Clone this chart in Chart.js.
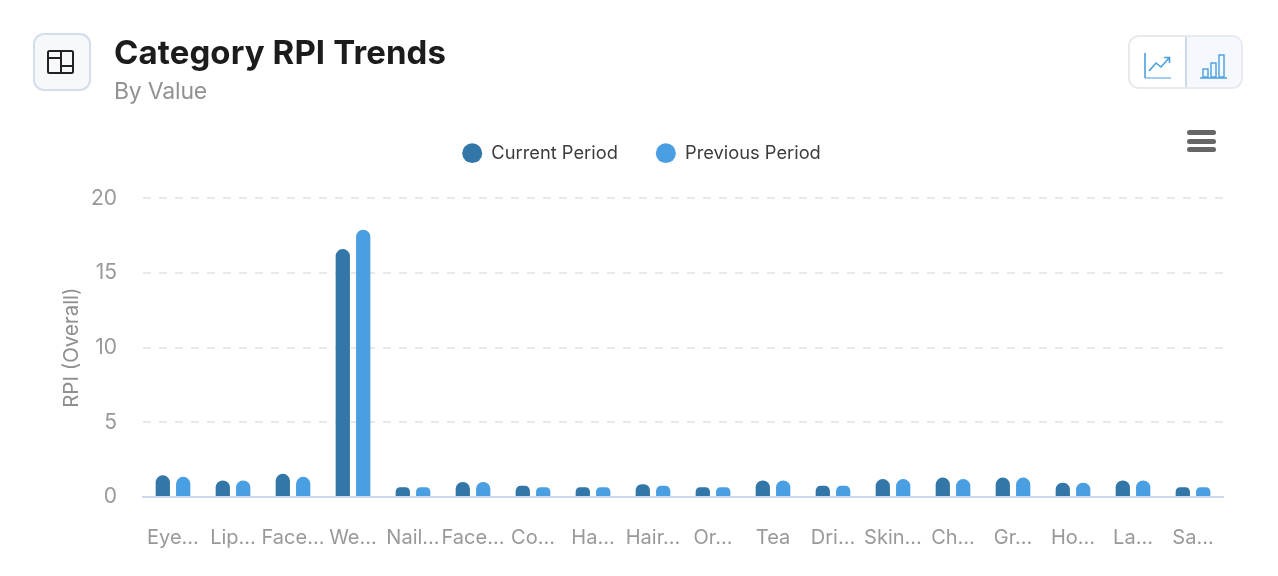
<!DOCTYPE html>
<html>
<head>
<meta charset="utf-8">
<title>Category RPI Trends</title>
<script src="https://cdn.jsdelivr.net/npm/chart.js@4"></script>
<style>
  html, body { margin: 0; padding: 0; background: #fff; overflow: hidden; }
  body { width: 1278px; height: 576px; position: relative; font-family: Inter, sans-serif; }
  #myChart { position: absolute; left: 0; top: 0; }
  .icon-box { position: absolute; left: 33px; top: 33px; width: 54px; height: 54px; border: 2px solid #d3deeb; border-radius: 11px; background: #f6f8fb; }
  .icon-box svg { position: absolute; left: 12px; top: 14px; }
  h1 { position: absolute; left: 114px; top: 32px; margin: 0; font-size: 33px; line-height: 40px; font-weight: 700; color: #1c1c1c; letter-spacing: 0.1px; }
  .sub { position: absolute; left: 114px; top: 76px; font-size: 23px; line-height: 30px; color: #929292; letter-spacing: -0.2px; }
  .switch { position: absolute; left: 1128px; top: 35px; width: 111px; height: 50px; border: 2px solid #e8eaed; border-radius: 11px; overflow: hidden; }
  .switch .right { position: absolute; left: 55px; top: 0; width: 56px; height: 50px; background: #f5f8fc; border-left: 2px solid #cbd9e8; }
  .switch svg { position: absolute; }
  .burger { position: absolute; left: 1187px; top: 130px; width: 29px; }
  .burger div { height: 5px; background: #666; border-radius: 3px; margin-bottom: 3.5px; }
</style>
</head>
<body>
<canvas id="myChart" width="1278" height="579"></canvas>

<div class="icon-box">
  <svg width="28" height="26" viewBox="0 0 28 26" fill="none" stroke="#222" stroke-width="2">
    <rect x="1" y="2" width="25" height="22" rx="1.5"/>
    <path d="M1 9H14M14 2V24M14 17H26"/>
  </svg>
</div>
<h1>Category RPI Trends</h1>
<div class="sub">By Value</div>

<div class="switch">
  <div class="right"></div>
  <svg style="left:13px;top:15px" width="30" height="28" viewBox="0 0 30 28" fill="none" stroke="#4a9fe0">
    <path d="M2 1V26" stroke-width="1.6"/><path d="M2 26H28" stroke-width="1"/>
    <path d="M6 19L13 11L18 15L26 6M21 5.500H26.500V11" stroke-width="1.6"/>
  </svg>
  <svg style="left:69px;top:15px" width="30" height="28" viewBox="0 0 30 28" fill="none" stroke="#4a9fe0" stroke-width="1.4">
    <rect x="4" y="17" width="5" height="8"/><rect x="12" y="11" width="5" height="14"/><rect x="20" y="3" width="5" height="22"/>
    <path d="M1 26H28"/>
  </svg>
</div>
<div class="burger"><div></div><div></div><div></div></div>

<script>
const ctx = document.getElementById('myChart');

const categories = ['Eye…', 'Lip…', 'Face…', 'We…', 'Nail…', 'Face…', 'Co…', 'Ha…', 'Hair…', 'Or…', 'Tea', 'Dri…', 'Skin…', 'Ch…', 'Gr…', 'Ho…', 'La…', 'Sa…'];
const currentPeriod = [1.45, 1.1, 1.55, 16.6, 0.65, 1.0, 0.75, 0.65, 0.85, 0.65, 1.1, 0.75, 1.2, 1.3, 1.3, 0.95, 1.1, 0.65];
const previousPeriod = [1.35, 1.1, 1.35, 17.9, 0.65, 1.0, 0.65, 0.65, 0.75, 0.65, 1.1, 0.75, 1.2, 1.2, 1.3, 0.95, 1.1, 0.65];

const topRound = { topLeft: 7, topRight: 7, bottomLeft: 0, bottomRight: 0 };

// extra room under the legend
const legendGap = {
  id: 'legendGap',
  beforeInit(chart) {
    const fit = chart.legend.fit;
    chart.legend.fit = function () {
      fit.call(this);
      this.height += 26;
    };
  }
};

new Chart(ctx, {
  type: 'bar',
  plugins: [legendGap],
  data: {
    labels: categories,
    datasets: [
      { label: 'Current Period', data: currentPeriod, backgroundColor: '#3376a8', borderRadius: topRound, borderSkipped: false },
      { label: 'Previous Period', data: previousPeriod, backgroundColor: '#499fe2', borderRadius: topRound, borderSkipped: false }
    ]
  },
  options: {
    responsive: false,
    animation: false,
    categoryPercentage: 0.68,
    barPercentage: 0.7,
    layout: { padding: { top: 106, right: 55, bottom: 0, left: 60 } },
    plugins: {
      tooltip: { enabled: false },
      legend: {
        position: 'top',
        labels: {
          usePointStyle: true,
          pointStyle: 'circle',
          pointStyleWidth: 20,
          boxHeight: 14,
          padding: 38,
          color: '#3c3c3c',
          font: { family: 'Inter', size: 18.3 }
        }
      }
    },
    scales: {
      x: {
        grid: { display: false, drawTicks: false },
        border: { color: '#cbd8ee', width: 2 },
        ticks: {
          autoSkip: false,
          maxRotation: 0,
          padding: 29,
          color: '#999999',
          font: { family: 'Inter', size: 20 }
        }
      },
      y: {
        min: 0,
        max: 20,
        afterFit: function (scale) { scale.width = 83; },
        title: {
          display: true,
          text: 'RPI (Overall)',
          color: '#8f8f8f',
          font: { family: 'Inter', size: 20.5 },
          padding: 0
        },
        grid: {
          drawTicks: false,
          color: function (c) { return c.tick.value === 0 ? 'transparent' : '#e6e8ea'; },
          lineWidth: 2
        },
        border: { display: false, dash: [8, 8] },
        ticks: {
          stepSize: 5,
          padding: 26,
          color: '#999999',
          font: { family: 'Inter', size: 21 }
        }
      }
    }
  }
});
</script>
</body>
</html>
